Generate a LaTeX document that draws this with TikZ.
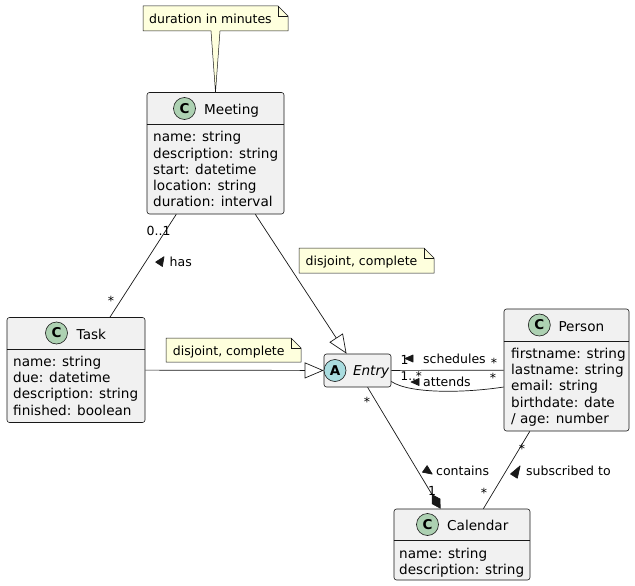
\documentclass[tikz,border=0pt]{standalone}
\usepackage{fontspec}
\setmainfont{DejaVu Sans}
\usetikzlibrary{arrows.meta}
\definecolor{ln}{HTML}{181818}
\definecolor{bf}{HTML}{F1F1F1}
\definecolor{nf}{HTML}{FEFFDD}
\definecolor{spotC}{HTML}{ADD1B2}
\definecolor{spotA}{HTML}{A9DCDF}
\begin{document}
\begin{tikzpicture}[x=1pt,y=-1pt,
  cls/.style={draw=ln, fill=bf, rounded corners=2.5pt, line width=0.6pt, inner sep=0pt},
  sepline/.style={draw=ln, line width=0.6pt},
  attr/.style={anchor=base west, inner sep=0pt, font=\fontsize{13.6}{16}\selectfont},
  cname/.style={anchor=base west, inner sep=0pt, font=\fontsize{13.6}{16}\selectfont},
  spot/.style={circle, draw=ln, line width=0.6pt, minimum size=22pt, inner sep=0pt, font=\fontsize{13.5}{13.5}\selectfont\bfseries},
  lbl/.style={anchor=base west, inner sep=0pt, font=\fontsize{12.5}{14}\selectfont},
  star/.style={anchor=base, inner sep=0pt, font=\fontsize{12.5}{14}\selectfont},
  conn/.style={draw=ln, line width=0.7pt},
  notebox/.style={draw=ln, fill=nf, line width=0.5pt},
  ltri/.style={fill=ln, draw=ln, line width=0.7pt, line join=round},
  gen/.style={-{Triangle[length=19pt,width=16pt,fill=white]}},
  comp/.style={-{Diamond[length=17pt,width=10pt]}}
]
\useasboundingbox[fill=white] (0,0) rectangle (635,586);

% ---- class boxes ----
\node[cls, minimum width=137pt, minimum height=121.5pt] (meeting) at (215.5,153.25) {};
\node[cls, minimum width=138pt, minimum height=105pt] (task) at (76,370) {};
\node[cls, minimum width=67pt, minimum height=33pt] (entry) at (357.5,370.5) {};
\node[cls, minimum width=125pt, minimum height=122pt] (person) at (566.5,370) {};
\node[cls, minimum width=136pt, minimum height=71pt] (calendar) at (462,544.5) {};

\draw[sepline] (meeting.west |- 0,124.5) -- (meeting.east |- 0,124.5);
\draw[sepline] (task.west |- 0,349) -- (task.east |- 0,349);
\draw[sepline] (person.west |- 0,341) -- (person.east |- 0,341);
\draw[sepline] (calendar.west |- 0,540.5) -- (calendar.east |- 0,540.5);

% ---- headers ----
\node[spot, fill=spotC] (sm) at (184.5,108.5) {C};
\node[cname] (tm) at (204,114.5) {Meeting};
\node[spot, fill=spotC] (st) at (56.5,333) {C};
\node[cname] (tt) at (76.5,339) {Task};
\node[spot, fill=spotA] (se) at (335,370.5) {A};
\node[cname] (te) at (352.8,375.5) {\itshape Entry};
\node[spot, fill=spotC] (sp) at (539.3,325) {C};
\node[cname] (tp) at (558.3,331) {Person};
\node[spot, fill=spotC] (sc) at (427.5,524.5) {C};
\node[cname] (tc) at (447,530) {Calendar};

% ---- attributes ----
\node[attr] (m1) at (153,142) {name: string};
\node[attr] (m2) at (153,158.2) {description: string};
\node[attr] (m3) at (153,174.4) {start: datetime};
\node[attr] (m4) at (153,190.6) {location: string};
\node[attr] (m5) at (153,206.8) {duration: interval};

\node[attr] (k1) at (13,366.5) {name: string};
\node[attr] (k2) at (13,382.7) {due: datetime};
\node[attr] (k3) at (13,398.9) {description: string};
\node[attr] (k4) at (13,415.1) {finished: boolean};

\node[attr] (p1) at (511,358.5) {firstname: string};
\node[attr] (p2) at (511,374.7) {lastname: string};
\node[attr] (p3) at (511,390.9) {email: string};
\node[attr] (p4) at (511,407.1) {birthdate: date};
\node[attr] (p5) at (511,423.3) {/ age: number};

\node[attr] (c1) at (399,558) {name: string};
\node[attr] (c2) at (399,574) {description: string};

% ---- notes ----
\draw[notebox] (143,6) -- (278,6) -- (288,16) -- (288,31) -- (220,31) -- (meeting.north) -- (211,31) -- (143,31) -- cycle;
\draw[notebox, fill=none] (278,6) -- (278,16) -- (288,16);
\node[lbl] (n1) at (149,23.5) {duration in minutes};

\draw[notebox] (299,248) -- (424,248) -- (434,258) -- (434,273) -- (299,273) -- cycle;
\draw[notebox, fill=none] (424,248) -- (424,258) -- (434,258);
\node[lbl] (n2) at (305.5,265) {disjoint, complete};

\draw[notebox] (166,338) -- (291,338) -- (301,348) -- (301,362) -- (166,362) -- cycle;
\draw[notebox, fill=none] (291,338) -- (291,348) -- (301,348);
\node[lbl] (n3) at (172.7,355) {disjoint, complete};

% ---- connectors ----
\draw[conn] (meeting) -- (task);
\draw[conn, gen] (meeting) -- (entry);
\draw[conn, gen] (task) -- (entry);
\draw[conn] (entry) -- (person);
\coordinate (att1) at ([yshift=-11pt]entry.east);
\coordinate (att2) at ([yshift=-17pt]person.west);
\draw[conn] (att1) .. controls (410,394) and (465,393) .. (att2);
\draw[conn, comp] (entry) -- (calendar);
\draw[conn] (person) -- (calendar);

% ---- connector labels ----
\node[lbl] (l01) at (146.5,235) {0..1};
\filldraw[ltri] (163.98,256.74) -- (162.36,266.46) -- (155.68,262.06) -- cycle;
\node[lbl] (lhas) at (169.5,266.5) {has};
\node[star] (lts) at (111,305) {*};

\node[lbl] (ls1) at (400.5,364) {1};
\filldraw[ltri] (405,358.5) -- (413,355) -- (413,362) -- cycle;
\node[lbl] (lsch) at (423,363.5) {schedules};
\node[star] (ls2) at (494,367) {*};

\node[lbl, font=\fontsize{12}{14}\selectfont] (la1) at (400.5,380.5) {1..*};
\filldraw[ltri] (411,382) -- (419,378.5) -- (419,385.5) -- cycle;
\node[lbl] (latt) at (423,386) {attends};
\node[star] (la2) at (493,382) {*};

\node[star] (lc1) at (367,406) {*};
\filldraw[ltri] (432.2,474.1) -- (422.5,472.2) -- (427.1,465.6) -- cycle;
\node[lbl] (lcon) at (436,475) {contains};
\node[lbl] (lc2) at (428,495) {1};

\node[star] (lp1) at (522,453) {*};
\filldraw[ltri] (520.1,465.9) -- (517.3,478.2) -- (510.5,474.0) -- cycle;
\node[lbl] (lsub) at (526,475) {subscribed to};
\node[star] (lp2) at (484,497) {*};
\end{tikzpicture}
\end{document}
